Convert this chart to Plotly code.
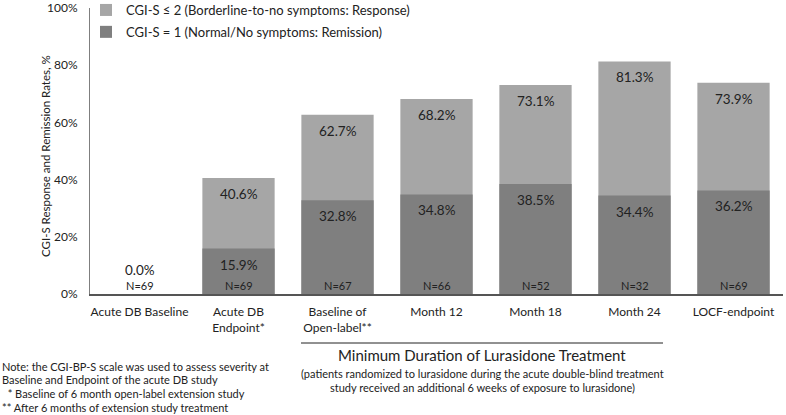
import plotly.graph_objects as go

categories = ["Acute DB Baseline", "Acute DB<br>Endpoint*", "Baseline of<br>Open-label**",
              "Month 12", "Month 18", "Month 24", "LOCF-endpoint"]
response = [0.0, 40.6, 62.7, 68.2, 73.1, 81.3, 73.9]
remission = [None, 15.9, 32.8, 34.8, 38.5, 34.4, 36.2]
n_labels = ["N=69", "N=69", "N=67", "N=66", "N=52", "N=32", "N=69"]
tick_vals = [0, 20, 40, 60, 80, 100]
tick_text = ["0%", "20%", "40%", "60%", "80%", "100%"]

FONT = "Lato"
LIGHT = "#A6A6A6"
DARK = "#7F7F7F"
TXT = "#222222"

W, H = 786, 415
ML, MR, MT, MB = 90, 3, 8, 121
PW, PH = W - ML - MR, H - MT - MB


def px(x):
    return (x - ML) / PW


def py(y):
    return (H - MB - y) / PH


fig = go.Figure()
fig.add_trace(go.Bar(x=categories, y=response, name="CGI-S \u2264 2 (Borderline-to-no symptoms: Response)",
                     marker=dict(color=LIGHT, line=dict(width=0)), width=0.73, legendgroup="a"))
fig.add_trace(go.Bar(x=categories, y=remission, name="CGI-S = 1 (Normal/No symptoms: Remission)",
                     marker=dict(color=DARK, line=dict(width=0)), width=0.73, legendgroup="b"))

ann = []
for c, v in zip(categories, response):
    if v == 0:
        ann.append(dict(x=c, y=v, xref="x", yref="y", text=f"{v:.1f}%", showarrow=False,
                        yanchor="bottom", yshift=14, font=dict(family=FONT, size=13.5, color=TXT)))
    else:
        ann.append(dict(x=c, y=v, xref="x", yref="y", text=f"{v:.1f}%", showarrow=False,
                        yanchor="top", yshift=-6, font=dict(family=FONT, size=13.5, color=TXT)))
for c, v in zip(categories, remission):
    if v is None:
        continue
    ann.append(dict(x=c, y=v, xref="x", yref="y", text=f"{v:.1f}%", showarrow=False,
                    yanchor="top", yshift=-6, font=dict(family=FONT, size=13.5, color=TXT)))
for c, t in zip(categories, n_labels):
    ann.append(dict(x=c, y=0, xref="x", yref="y", text=t, showarrow=False,
                    yanchor="bottom", yshift=0, font=dict(family=FONT, size=11, color=TXT)))

# y-axis title
ann.append(dict(x=px(45), y=py(156), xref="paper", yref="paper", textangle=-90,
                text="CGI-S Response and Remission Rates, %", showarrow=False,
                xanchor="center", yanchor="middle", font=dict(family=FONT, size=11.5, color=TXT)))

ann.append(dict(x=px(482), y=py(355), xref="paper", yref="paper",
                text="Minimum Duration of Lurasidone Treatment", yanchor="middle",
                showarrow=False, font=dict(family=FONT, size=15, color=TXT)))
notes_right = ["(patients randomized to lurasidone during the acute double-blind treatment",
               "study received an additional 6 weeks of exposure to lurasidone)"]
notes_left = ["Note: the CGI-BP-S scale was used to assess severity at",
              "Baseline and Endpoint of the acute DB study",
              "&nbsp;&nbsp;* Baseline of 6 month open-label extension study",
              "** After 6 months of extension study treatment"]

for i, line in enumerate(notes_right):
    ann.append(dict(x=px(482), y=py(373 + i * 14), xref="paper", yref="paper", text=line,
                    showarrow=False, font=dict(family=FONT, size=11, color=TXT), yanchor="middle"))
for i, line in enumerate(notes_left):
    ann.append(dict(x=px(0), y=py(366 + i * 13.7), xref="paper", yref="paper", text=line,
                    showarrow=False, xanchor="left", font=dict(family=FONT, size=11, color=TXT),
                    yanchor="middle"))

fig.update_layout(
    width=W, height=H,
    margin=dict(l=ML, r=MR, t=MT, b=MB, pad=0, autoexpand=False),
    barmode="overlay",
    plot_bgcolor="white", paper_bgcolor="white",
    font=dict(family=FONT, size=13, color=TXT),
    showlegend=True,
    legend=dict(x=px(86), y=py(-5), xanchor="left", yanchor="top", bgcolor="rgba(0,0,0,0)",
                font=dict(family=FONT, size=13, color=TXT), tracegroupgap=2, itemwidth=30),
    annotations=ann,
    shapes=[dict(type="line", xref="paper", yref="paper", x0=px(301), x1=px(663), y0=py(343), y1=py(343),
                 line=dict(color="#222222", width=1))],
)
fig.update_yaxes(range=[0, 100], tickvals=tick_vals, ticktext=tick_text, showgrid=False, automargin=False,
                 showline=True, linecolor="#7f7f7f", linewidth=1, ticks="", zeroline=False,
                 ticklabelstandoff=9, ticklabeloverflow="allow",
                 tickfont=dict(family=FONT, size=12, color=TXT))
fig.update_xaxes(showline=True, linecolor="#555555", linewidth=1.5, ticks="", showgrid=False, automargin=False,
                 ticklabelstandoff=6,
                 tickfont=dict(family=FONT, size=12, color=TXT))

fig.write_html("out.html", config={"displayModeBar": False},
               post_script="document.body.style.margin='0';document.body.style.overflow='hidden';")
